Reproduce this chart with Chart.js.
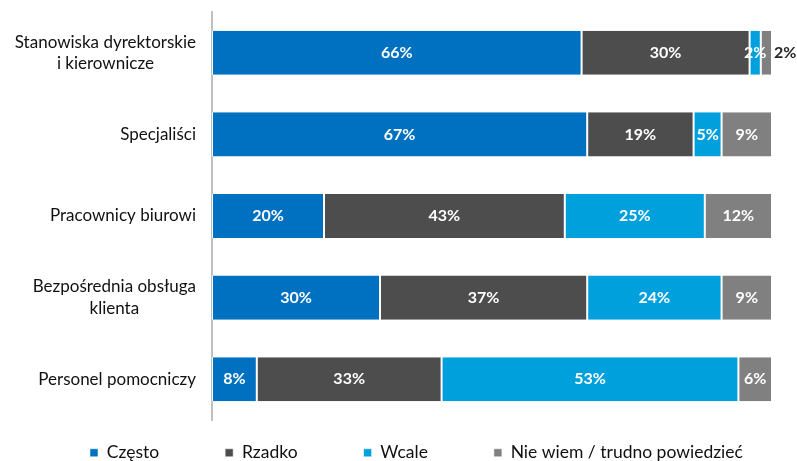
<!DOCTYPE html>
<html>
<head>
<meta charset="utf-8">
<script src="https://cdn.jsdelivr.net/npm/chart.js@4"></script>
<style>
  html, body { margin: 0; padding: 0; background: #fff; }
  #wrap { width: 797px; height: 461px; position: relative; }
</style>
</head>
<body>
<div id="wrap"><canvas id="wykres"></canvas></div>
<script>
// Kategorie stanowisk (wiersze wykresu)
const kategorie = [
    ['Stanowiska dyrektorskie', 'i kierownicze'],
    'Specjaliści',
    'Pracownicy biurowi',
    ['Bezpośrednia obsługa', 'klienta'],
    'Personel pomocniczy'
];

// Odpowiedzi w procentach
const czesto  = [66, 67, 20, 30, 8];
const rzadko  = [30, 19, 43, 37, 33];
const wcale   = [2, 5, 25, 24, 53];
const nieWiem = [2, 9, 12, 9, 6];

const nazwySerii = ['Często', 'Rzadko', 'Wcale', 'Nie wiem / trudno powiedzieć'];
const kolory = ['#0070C0', '#4D4D4D', '#00A0DC', '#808080'];

const FONT = 'Lato, "Open Sans", sans-serif';

// Podpisy kategorii: linie wyśrodkowane względem siebie, blok wyrównany do prawej
const podpisyKategorii = {
    id: 'podpisyKategorii',
    afterDraw(chart) {
        const ctx = chart.ctx;
        const y = chart.scales.y;
        const prawa = chart.chartArea.left - 16;
        ctx.save();
        ctx.font = '17px ' + FONT;
        ctx.fillStyle = '#111';
        ctx.textBaseline = 'middle';
        ctx.textAlign = 'center';
        kategorie.forEach((kat, i) => {
            const linie = Array.isArray(kat) ? kat : [kat];
            const szer = Math.max(...linie.map(l => ctx.measureText(l).width));
            const srodekX = prawa - szer / 2;
            const wys = 21.5;
            const yc = y.getPixelForValue(i);
            linie.forEach((l, j) => {
                ctx.fillText(l, srodekX, yc + (j - (linie.length - 1) / 2) * wys);
            });
        });
        ctx.restore();
    }
};

// Etykiety wartości na segmentach
const etykietyWartosci = {
    id: 'etykietyWartosci',
    afterDatasetsDraw(chart) {
        const ctx = chart.ctx;
        ctx.save();
        ctx.font = 'bold 16px ' + FONT;
        ctx.textBaseline = 'middle';
        chart.data.datasets.forEach((ds, di) => {
            const meta = chart.getDatasetMeta(di);
            meta.data.forEach((bar, i) => {
                const tekst = ds.data[i] + '%';
                const szer = ctx.measureText(tekst).width;
                const ostatni = di === chart.data.datasets.length - 1;
                const szerBelki = Math.abs(bar.x - bar.base);
                if (ostatni && szerBelki < szer) {
                    // za wąski segment na końcu – podpis obok belki
                    ctx.fillStyle = '#262626';
                    ctx.textAlign = 'left';
                    ctx.fillText(tekst, bar.x + 2, bar.y);
                } else {
                    ctx.fillStyle = '#fff';
                    ctx.textAlign = 'center';
                    ctx.fillText(tekst, (bar.x + bar.base) / 2, bar.y);
                }
            });
        });
        ctx.restore();
    }
};

// Legenda: szerokie odstępy między pozycjami, ale niska ramka pod wykresem
const pozycjaLegendy = {
    id: 'pozycjaLegendy',
    beforeLayout(chart) {
        const lg = chart.legend;
        if (lg && !lg._niska) {
            const fit = lg.fit;
            lg.fit = function () {
                this.maxWidth = 2000; // wszystkie pozycje w jednym wierszu
                fit.call(this);
                this.height = 41;
            };
            lg._niska = true;
        }
    },
    afterLayout(chart) {
        const lg = chart.legend;
        const pad = lg.options.labels.padding;
        lg.top = 452 - pad - 8;
        lg.bottom = chart.height;
        lg.height = lg.bottom - lg.top;
        // pierwsza pozycja legendy zaczyna się przy x = 90
        lg.left = 90 - pad;
        lg.right = chart.width + 300;
        lg.width = lg.right - lg.left;
    }
};

const serie = [czesto, rzadko, wcale, nieWiem];

new Chart(document.getElementById('wykres'), {
    type: 'bar',
    data: {
        labels: kategorie,
        datasets: serie.map((dane, k) => ({
            label: nazwySerii[k],
            data: dane,
            backgroundColor: kolory[k],
            borderColor: '#fff',
            borderWidth: { left: 1, right: 1, top: 0, bottom: 0 },
            borderSkipped: false,
            barPercentage: 0.54,
            categoryPercentage: 1
        }))
    },
    options: {
        indexAxis: 'y',
        responsive: true,
        maintainAspectRatio: false,
        animation: false,
        layout: { padding: { top: 12, right: 25, bottom: 0, left: 0 } },
        scales: {
            x: {
                stacked: true,
                min: 0,
                max: 100,
                display: false
            },
            y: {
                stacked: true,
                grid: { display: false, drawTicks: false },
                border: { display: true, color: '#BFBFBF', width: 2 },
                ticks: { display: false },
                afterFit(scale) { scale.width = 212; }
            }
        },
        plugins: {
            legend: {
                position: 'bottom',
                align: 'start',
                labels: {
                    boxWidth: 8,
                    boxHeight: 8,
                    padding: 66,
                    color: '#111',
                    font: { family: FONT, size: 17.5 }
                }
            },
            tooltip: { enabled: false }
        }
    },
    plugins: [podpisyKategorii, etykietyWartosci, pozycjaLegendy]
});
</script>
</body>
</html>
